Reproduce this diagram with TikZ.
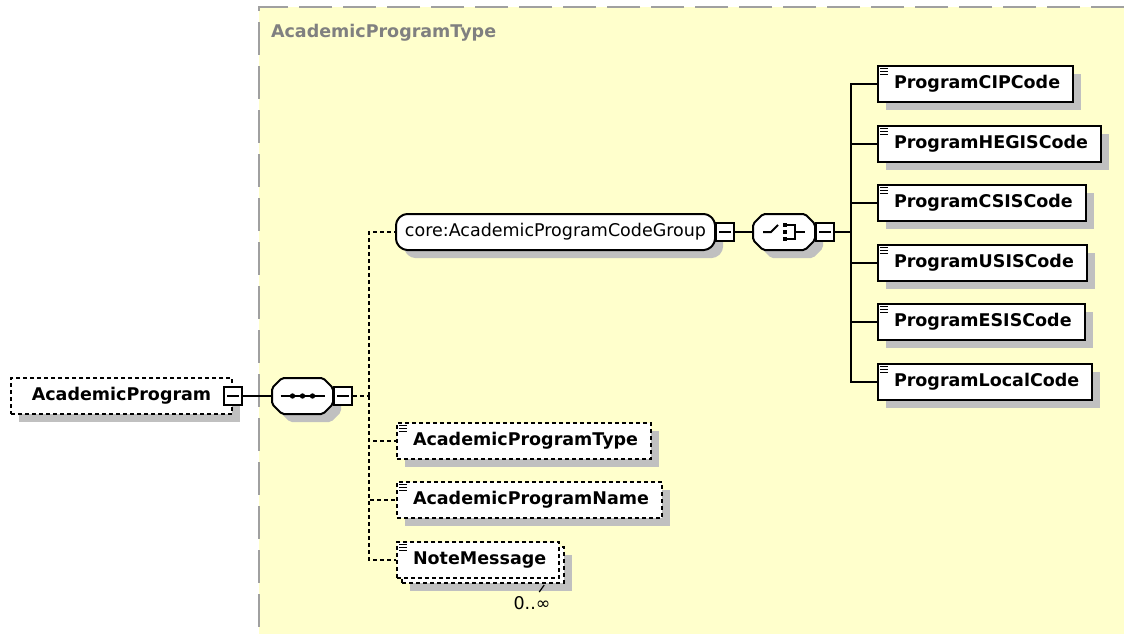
\documentclass[tikz,border=0pt]{standalone}
\usepackage{fontspec}
\setmainfont{DejaVu Sans}
\usetikzlibrary{calc, shadows, positioning}

\definecolor{groupfill}{RGB}{255,255,204}
\definecolor{groupline}{RGB}{160,160,160}
\definecolor{grouptext}{RGB}{128,128,128}
\definecolor{shadowgray}{RGB}{192,192,192}

\tikzset{
  shadowed/.style={drop shadow={shadow xshift=8pt, shadow yshift=-8pt, fill=shadowgray, opacity=1}},
  elembox/.style={draw, fill=white, line width=2pt, minimum height=36pt,
    inner xsep=13pt, inner ysep=2pt, anchor=west, font=\bfseries},
  elem/.style={elembox, shadowed},
  optelem/.style={elem, dash pattern=on 4pt off 3pt},
  optmulti/.style={
    drop shadow={shadow xshift=13pt, shadow yshift=-13pt, fill=shadowgray, opacity=1},
    preaction={draw, fill=white, line width=2pt, dash pattern=on 4pt off 3pt,
      transform canvas={shift={(5pt,-5pt)}}},
    elembox, dash pattern=on 4pt off 3pt},
  minusbox/.style={draw, fill=white, line width=1.6pt, minimum size=18pt, inner sep=0pt,
    path picture={\draw[line width=1.6pt] ([xshift=3pt]path picture bounding box.west)
      -- ([xshift=-3pt]path picture bounding box.east);}},
  compositor/.style={draw, fill=white, shadowed, line width=2pt, rounded corners=2pt},
  link/.style={line width=2pt},
  optlink/.style={link, dash pattern=on 4pt off 3pt},
}

% octagon behind a compositor: centre x, centre y, half width, half height, cut
\newcommand{\octo}[6][]{%
  \path[compositor,#1] (#2-#4,#3-#5+#6) -- (#2-#4+#6,#3-#5) -- (#2+#4-#6,#3-#5)
    -- (#2+#4,#3-#5+#6) -- (#2+#4,#3+#5-#6) -- (#2+#4-#6,#3+#5)
    -- (#2-#4+#6,#3+#5) -- (#2-#4,#3+#5-#6) -- cycle;}

% small element icon in the top left corner
\newcommand{\elemicon}[1]{%
  \foreach \d in {3.5,6.5,9.5}
    {\draw[line width=1.2pt] ($(#1.north west)+(3,\d)$) -- ++(8,0);}}

\begin{document}
\fontsize{17.5pt}{21pt}\selectfont
\begin{tikzpicture}[x=1pt, y=-1pt]
\useasboundingbox (0,0) rectangle (1124,634);

% complex type area
\fill[groupfill] (259,7) rectangle (1124,634);
\draw[groupline, line width=2pt, dash pattern=on 33pt off 11pt] (1124,7) -- (259,7) -- (259,634);
\node[anchor=west, text=grouptext, font=\bfseries] (grouptitle) at (265,33) {AcademicProgramType};

% root element
\node[optelem, minimum width=221pt] (ap) at (10,396) {AcademicProgram};
\node[minusbox] (apm) at (ap.east) {};

% sequence
\octo{302.5}{396}{30.5}{18}{10}
\node[minimum width=61pt, minimum height=36pt] (seq) at (302.5,396) {};
\draw[link] ($(seq.center)+(-22,0)$) -- ($(seq.center)+(22,0)$);
\foreach \dx in {-10,0,10}
  {\fill ($(seq.center)+(\dx,0)$) circle (2.7pt);}
\node[minusbox, anchor=west] (seqm) at (seq.east) {};

% group reference
\octo[rounded corners=4pt]{555.5}{232}{159.5}{18}{7}
\node[minimum width=319pt, minimum height=36pt, inner sep=0pt] (core) at (555.5,232) {core:AcademicProgramCodeGroup};
\node[minusbox, anchor=west] (corem) at (core.east) {};

% choice
\octo{784}{232}{31}{18}{10}
\node[minimum width=62pt, minimum height=36pt] (choice) at (784,232) {};
\draw[link] ($(choice.center)+(-21,0)$) -- ++(8,0) -- ++(7,-7);
\foreach \dy in {-7,0,7}
  {\fill ($(choice.center)+(-1,\dy-2)$) rectangle ++(4,4);}
\draw[link] ($(choice.center)+(3,-7)$) -- ++(8,0) -- ++(0,14) -- ++(-8,0);
\draw[link] ($(choice.center)+(11,0)$) -- ++(10,0);
\node[minusbox, anchor=west] (choicem) at (choice.east) {};

% code elements
\node[elem] (cip)   at (877,84)  {\hspace*{3pt}ProgramCIPCode};
\node[elem] (hegis) at (877,144) {\hspace*{3pt}ProgramHEGISCode};
\node[elem] (csis)  at (877,203) {\hspace*{3pt}ProgramCSISCode};
\node[elem] (usis)  at (877,263) {\hspace*{3pt}ProgramUSISCode};
\node[elem] (esis)  at (877,322) {\hspace*{3pt}ProgramESISCode};
\node[elem] (local) at (877,382) {\hspace*{3pt}ProgramLocalCode};

% optional elements
\node[optelem] (ptype) at (396,441) {\hspace*{3pt}AcademicProgramType};
\node[optelem] (pname) at (396,500) {\hspace*{3pt}AcademicProgramName};
\node[optmulti] (note) at (396,560) {\hspace*{3pt}NoteMessage};
\node (noteocc) at (532,603) {0..∞};
\draw[line width=1.2pt] ($(note.south east)+(-16,6)$) -- ++(-5,7);

\foreach \n in {cip,hegis,csis,usis,esis,local,ptype,pname,note}
  {\elemicon{\n}}

% connectors
\draw[link] (apm.east) -- (seq.west);
\coordinate (seqfork) at (369,396);
\draw[optlink] (seqm.east) -- (seqfork);
\foreach \n in {core,ptype,pname,note}
  {\draw[optlink] (seqfork) |- (\n.west);}
\draw[link] (corem.east) -- (choice.west);
\coordinate (choicefork) at (851,232);
\draw[link] (choicem.east) -- (choicefork);
\foreach \n in {cip,hegis,csis,usis,esis,local}
  {\draw[link] (choicefork) |- (\n.west);}

\end{tikzpicture}
\end{document}
